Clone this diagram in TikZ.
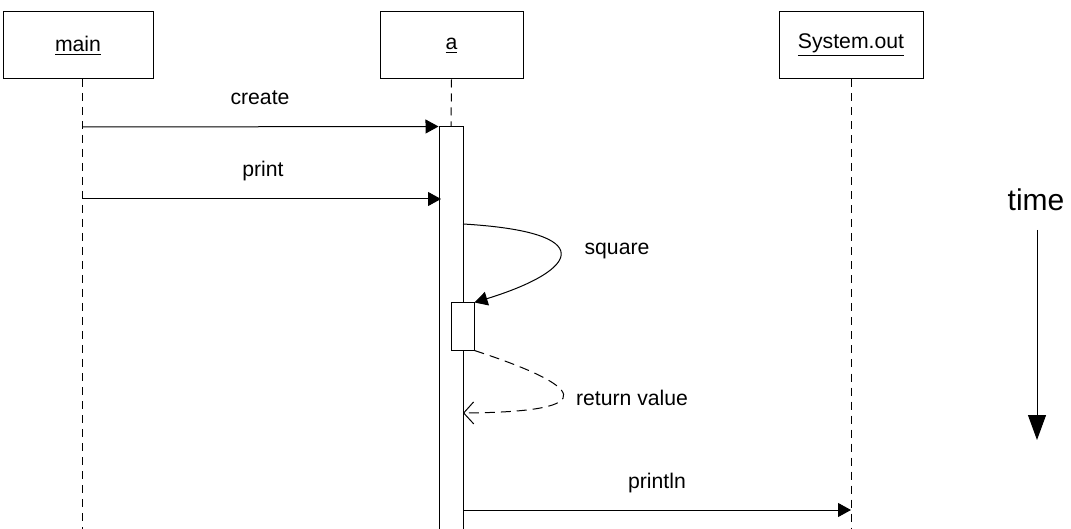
\documentclass[tikz,border=0pt]{standalone}
\usepackage{fontspec}
\setmainfont{Liberation Sans}
\usetikzlibrary{arrows.meta}
\begin{document}
\begin{tikzpicture}[x=0.5pt, y=-0.5pt, line width=0.5pt,
	object/.style={draw, rectangle, minimum height=33.5pt, inner sep=0pt, font=\fontsize{10.6}{12}\selectfont},
	lifeline/.style={dash pattern=on 4pt off 3pt},
	activation/.style={draw, fill=white, rectangle, minimum width=12pt, inner sep=0pt},
	msg/.style={-{Triangle[length=6.5pt,width=7pt]}},
	reply/.style={dash pattern=on 5pt off 3pt, -{Straight Barb[length=5pt,width=11pt]}},
	msglabel/.style={anchor=base, inner sep=0pt, font=\fontsize{10.6}{12}\selectfont}]
		\useasboundingbox (0,0) rectangle (1071,529);

		\node[object, minimum width=75pt] (main) at (78,45.5) {\underline{main}};
		\node[object, minimum width=71.5pt] (a) at (451.5,45.5) {\underline{a}};
		\node[object, minimum width=72pt] (sysout) at (851,45.5) {\underline{System.out}};

		\coordinate (mainTop) at (82,79);
		\coordinate (mainEnd) at (82,529);
		\coordinate (sysoutEnd) at (851,529);

		\draw[lifeline] (mainTop) -- (mainEnd);
		\draw[lifeline] (sysout.south) -- (sysoutEnd);

		\node[activation, minimum height=206.5pt] (aAct) at (451,333.5) {};
		\node[activation, minimum width=11.5pt, minimum height=23.5pt] (aSelf) at (462.5,326.5) {};
		\draw[lifeline] (a.south) -- (aAct.north);

		\coordinate (createStart) at (82,127);
		\coordinate (printStart) at (82,199);
		\coordinate (printEnd) at (441,199);
		\coordinate (squareStart) at (463,224);
		\coordinate (returnEnd) at (463,413);
		\coordinate (printlnStart) at (463,510);
		\coordinate (printlnEnd) at (851,510);

		\draw[msg] (createStart) -- (aAct.north west);
		\draw[msg] (printStart) -- (printEnd);
		\draw[msg] (squareStart) .. controls (600,232) and (580,270) .. (aSelf.north east);
		\draw[reply] (aSelf.south east) .. controls (580,385) and (610,412) .. (returnEnd);
		\draw[msg] (printlnStart) -- (printlnEnd);

		\node[msglabel] (createLabel) at (260,105) {create};
		\node[msglabel] (printLabel) at (263,177) {print};
		\node[msglabel] (squareLabel) at (617,255) {square};
		\node[msglabel] (returnLabel) at (632,405) {return value};
		\node[msglabel] (printlnLabel) at (657,488) {println};

		\node[msglabel, font=\fontsize{15}{17}\selectfont] (time) at (1036,211) {time};
		\coordinate (timeStart) at (1037,230);
		\coordinate (timeEnd) at (1037,440);
		\draw[-{Triangle[length=12.5pt,width=9pt]}] (timeStart) -- (timeEnd);
	\end{tikzpicture}
\end{document}
